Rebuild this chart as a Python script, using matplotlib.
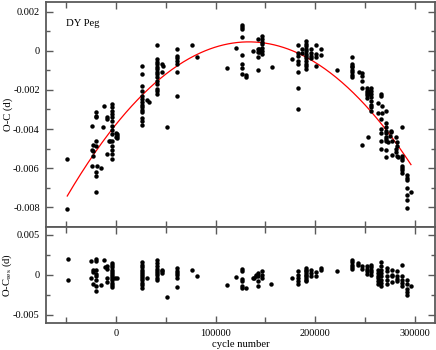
import numpy as np
import matplotlib
matplotlib.use("Agg")
import matplotlib.pyplot as plt
from matplotlib.ticker import MultipleLocator, FixedLocator

plt.rcParams['font.family'] = ['Liberation Serif', 'DejaVu Serif']
plt.rcParams['axes.unicode_minus'] = False
plt.rcParams['mathtext.fontset'] = 'custom'
plt.rcParams['mathtext.rm'] = 'Liberation Serif'

star_name = "DY Peg"

# ---- O-C data (cycle number, O-C in days), grouped by epoch ----
cycle_top = (
    [-48700]*2 +
    [-24000, -22500, -23900, -22900, -19400, -19400, -22400, -19700, -19700, -19700,
     -23900, -18700, -14700, -19400, -19400, -19400] +
    [-12000, -13300, -9300, -8600, -8600, -7000, -6000] +
    [-4300]*14 +
    [500, 1400, 1400, 500, 1400] +
    [26500]*14 + [31500, 33100] +
    [41500]*14 + [46500, 47000, 46500, 50900] +
    [60900]*7 +
    [76600, 81600, 111700, 120700] +
    [126800]*8 + [130200, 130900, 137400] +
    [142500]*5 + [144000]*2 + [146100]*7 +
    [156800, 176900] +
    [182600]*8 + [187000]*2 + [191000]*12 + [196000]*4 + [201000]*4 + [205300]*2 +
    [222000] + [237000]*8 + [243500] + [247100]*4 + [247100, 252700] +
    [252000]*5 + [253800]*2 + [256000]*8 +
    [263200]*2 + [266200]*7 + [267200]*2 + [271200]*10 +
    [273200, 274500, 275500, 276200, 276500, 276500, 280500, 281200, 281200,
     282200, 282200, 282200, 283200] +
    [286600]*6 + [287300]*2 + [291600]*7 + [295600]
)
oc_top = (
    [-0.00551, -0.00810] +
    [-0.00383, -0.00480, -0.00505, -0.00514, -0.00459, -0.00485, -0.00536, -0.00311, -0.00332, -0.00340,
     -0.00590, -0.00590, -0.00600, -0.00620, -0.00641, -0.00720] +
    [-0.00280, -0.00390, -0.00340, -0.00349, -0.00530, -0.00459, -0.00463] +
    [-0.00272, -0.00286, -0.00306, -0.00323, -0.00340, -0.00361, -0.00383, -0.00405, -0.00425,
     -0.00459, -0.00485, -0.00507, -0.00530, -0.00553] +
    [-0.00422, -0.00425, -0.00434, -0.00442, -0.00445] +
    [-0.00080, -0.00119, -0.00179, -0.00204, -0.00230, -0.00247, -0.00264, -0.00276, -0.00289,
     -0.00303, -0.00315, -0.00344, -0.00357, -0.00381] + [-0.00250, -0.00260] +
    [0.00031, -0.00042, -0.00055, -0.00068, -0.00082, -0.00093, -0.00106, -0.00119, -0.00136,
     -0.00153, -0.00170, -0.00195, -0.00208, -0.00221] + [-0.00068, -0.00080, -0.00110, -0.00390] +
    [0.00010, -0.00026, -0.00039, -0.00051, -0.00068, -0.00110, -0.00230] +
    [0.00029, -0.00030, -0.00090, 0.00017] +
    [0.00130, 0.00122, 0.00114, 0.00071, -0.00020, -0.00068, -0.00090, -0.00119] +
    [-0.00122, -0.00133, 0.0] +
    [0.00060, 0.00009, -0.00005, -0.00034, -0.00098] + [0.00009, -0.00005] +
    [0.00077, 0.00060, 0.00047, 0.00034, 0.00017, 0.0, -0.00014] +
    [-0.00082, -0.00042] +
    [0.00031, -0.00009, -0.00026, -0.00051, -0.00068, -0.00110, -0.00192, -0.00300] +
    [0.00009, -0.00009] +
    [0.00051, 0.00037, 0.00026, 0.00012, 0.0, -0.00014, -0.00026, -0.00037, -0.00051,
     -0.00065, -0.00080, -0.00093] +
    [0.00009, -0.00009, -0.00026, -0.00037] + [0.00031, -0.00017, -0.00031, -0.00080] +
    [0.00009, -0.00020] +
    [-0.00099] + [-0.00034, -0.00068, -0.00075, -0.00085, -0.00097, -0.00110, -0.00122, -0.00133] +
    [-0.00110] + [-0.00114, -0.00128, -0.00153, -0.00190] + [-0.00480, -0.00442] +
    [-0.00190, -0.00203, -0.00215, -0.00228, -0.00241] + [-0.00204, -0.00221] +
    [-0.00190, -0.00204, -0.00221, -0.00238, -0.00255, -0.00276, -0.00289, -0.00310] +
    [-0.00269, -0.00320] +
    [-0.00221, -0.00230, -0.00348, -0.00400, -0.00422, -0.00463, -0.00502] +
    [-0.00281, -0.00320] +
    [-0.00310, -0.00371, -0.00391, -0.00408, -0.00422, -0.00439, -0.00450, -0.00463, -0.00510, -0.00541] +
    [-0.00468, -0.00434, -0.00408, -0.00417, -0.00459, -0.00531, -0.00442, -0.00502, -0.00519,
     -0.00468, -0.00485, -0.00536, -0.00544] +
    [-0.00391, -0.00536, -0.00588, -0.00600, -0.00612, -0.00626] + [-0.00547, -0.00561] +
    [-0.00633, -0.00649, -0.00663, -0.00700, -0.00740, -0.00762, -0.00803] + [-0.00723]
)

# ---- quadratic ephemeris fit: O-C = c0 + c1*E + c2*E^2 ----
fit_coeffs = [-0.003774, 6.347e-8, -2.379e-13]
fit_range = [-48700, 295900]

# ---- residuals (cycle number, O-C_res in days) ----
cycle_res = (
    [-48100]*2 + [-24400]*2 + [-23000]*3 + [-19700]*8 + [-15000, -12000, -11000] + [-8600]*4 +
    [-4300]*12 + [-1000, 700] +
    [26500]*12 + [31500] + [41500]*9 + [46500]*3 + [50900] + [60900]*6 +
    [76600, 81600, 111700, 120700] + [126500]*6 + [130900, 137400, 138400] +
    [141000]*2 + [143000]*4 + [146100]*3 + [155900, 176900] +
    [182600]*5 + [190700]*9 + [195700]*3 + [200800]*2 + [205700]*2 + [221400] +
    [236500]*5 + [243000]*2 + [246700]*2 + [251700]*4 + [256000]*5 +
    [263200]*6 + [265600]*8 + [271600]*5 + [277000]*4 + [281500]*4 + [286600]*5 +
    [291600]*5 + [295600]
)
oc_res = (
    [0.00197, -0.00058] + [0.00167, -0.00037] + [0.00065, 0.00037, -0.00110] +
    [0.00200, 0.00167, 0.00057, 0.00012, -0.00017, -0.00058, -0.00140, -0.00200] +
    [-0.00128, 0.00180, 0.00093] + [0.00106, 0.00077, -0.00037, -0.00086] +
    [0.00147, 0.00118, 0.00093, 0.00065, 0.00037, 0.00012, -0.00017, -0.00037, -0.00070,
     -0.00098, -0.00128, -0.00152] + [-0.00037, -0.00045] +
    [0.00160, 0.00127, 0.00093, 0.00065, 0.00037, 0.00012, -0.00017, -0.00037, -0.00070,
     -0.00098, -0.00128, -0.00160] + [-0.00045] +
    [0.00188, 0.00147, 0.00106, 0.00077, 0.00053, 0.00025, -0.00005, -0.00037, -0.00070] +
    [0.00066, 0.00054, 0.00024] + [-0.00270] +
    [0.00086, 0.00053, 0.00025, -0.00005, -0.00037, -0.00152] +
    [0.00065, -0.00009, -0.00128, -0.00025] +
    [0.00077, 0.00044, -0.00049, -0.00079, -0.00140, -0.00160] + [-0.00168, -0.00045, -0.00037] +
    [-0.00017, 0.00004] + [0.00025, -0.00017, -0.00079, -0.00140] + [0.00044, -0.00037, 0.0] +
    [-0.00110, -0.00037] +
    [0.00053, 0.00004, -0.00037, -0.00079, -0.00120] +
    [0.00086, 0.00065, 0.00044, 0.00025, 0.00004, -0.00017, -0.00037, -0.00058, -0.00079] +
    [0.00060, 0.00025, -0.00017] + [0.00035, -0.00017] + [0.00086, 0.00065] + [0.00044] +
    [0.00188, 0.00155, 0.00127, 0.00098, 0.00074] + [0.00127, 0.00147] + [0.00114, 0.00074] +
    [0.00106, 0.00074, 0.00044, 0.00016] + [0.00127, 0.00098, 0.00065, 0.00032, 0.00004] +
    [0.00065, 0.00025, -0.00009, -0.00037, -0.00079, -0.00120] +
    [0.00155, 0.00106, 0.00065, 0.00025, -0.00017, -0.00058, -0.00098, -0.00140] +
    [0.00086, 0.00044, -0.00009, -0.00058, -0.00120] +
    [0.00065, 0.00004, -0.00090, -0.00017] + [0.00044, -0.00009, -0.00049, -0.00079] +
    [0.00127, -0.00009, -0.00058, -0.00098, -0.00140] +
    [-0.00058, -0.00120, -0.00172, -0.00214, -0.00254] + [-0.00140]
)

x_ticks = [0, 100000, 200000, 300000]
top_yticks = [0.002, 0, -0.002, -0.004, -0.006, -0.008]
res_yticks = [0.005, 0, -0.005]

frame_col = '#5a5a5a'
tick_fs = 7.5
text_fs = 7.7
fig = plt.figure(figsize=(4.36, 3.5), dpi=100)
L, R = 46/436, 435/436
ax1 = fig.add_axes([L, 1-226.7/350, R-L, (226.7-2)/350])
ax2 = fig.add_axes([L, 1-323/350, R-L, (323-226.7)/350])

ax1.plot(cycle_top, oc_top, 'o', color='black', ms=3.2, mew=0, zorder=3)
E = np.linspace(fit_range[0], fit_range[1], 300)
ax1.plot(E, np.polyval(fit_coeffs[::-1], E), color='red', lw=0.9, zorder=2)
ax2.plot(cycle_res, oc_res, 'o', color='black', ms=3.2, mew=0, zorder=3)

for ax in (ax1, ax2):
    ax.set_xlim(-70000, 320000)
    ax.xaxis.set_major_locator(FixedLocator(x_ticks))
    ax.xaxis.set_minor_locator(MultipleLocator(50000))
    ax.tick_params(which='both', direction='in', top=True, right=True,
                   color=frame_col, width=1.0, labelsize=tick_fs, pad=4.5)
    ax.tick_params(which='major', length=5)
    ax.tick_params(which='minor', length=3)
    ax.tick_params(axis='x', which='minor', length=4.5)
    for s in ax.spines.values():
        s.set_color(frame_col)
        s.set_linewidth(1.3)

ax1.set_ylim(-0.009, 0.0025)
ax1.yaxis.set_major_locator(FixedLocator(top_yticks))
ax1.yaxis.set_minor_locator(MultipleLocator(0.001))
ax1.set_yticklabels(['0.002', '0', '-0.002', '-0.004', '-0.006', '-0.008'])
ax1.tick_params(labelbottom=False)
ax1.set_ylabel('O-C (d)', fontsize=text_fs)
ax1.yaxis.set_label_coords(-0.086, 0.5)
ax1.text(0.052, 0.906, star_name, transform=ax1.transAxes, fontsize=text_fs,
         ha='left', va='center')

ax2.set_ylim(-0.006, 0.006)
ax2.yaxis.set_major_locator(FixedLocator(res_yticks))
ax2.yaxis.set_minor_locator(MultipleLocator(0.0025))
ax2.set_yticklabels(['0.005', '0', '-0.005'])
ax2.set_xticklabels(['0', '100000', '200000', '300000'])
ax2.set_ylabel(r'O-C$_{\rm res}$ (d)', fontsize=text_fs)
ax2.yaxis.set_label_coords(-0.082, 0.5)
ax2.set_xlabel('cycle number', fontsize=text_fs, labelpad=1.5)

fig.savefig('out.png', dpi=100)
